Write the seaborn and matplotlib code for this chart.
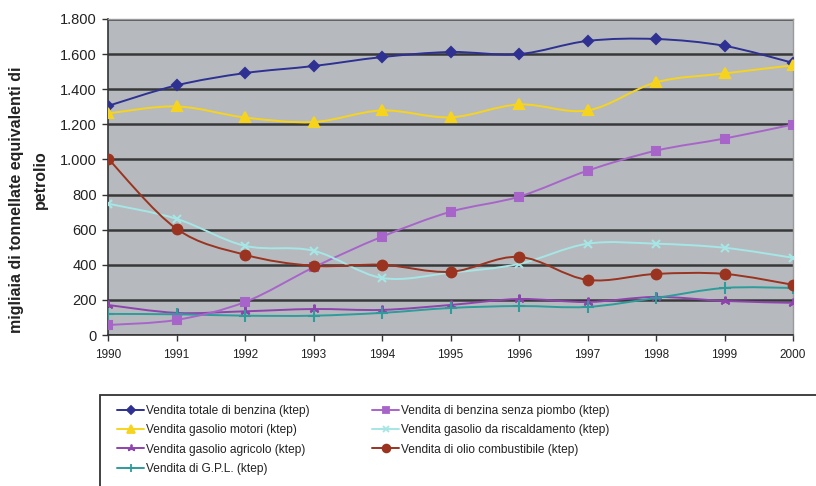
import numpy as np
import pandas as pd
import matplotlib
matplotlib.use("Agg")
import matplotlib.pyplot as plt
from matplotlib.path import Path
from matplotlib.patches import PathPatch, Rectangle
from matplotlib.lines import Line2D
from matplotlib.ticker import FuncFormatter
import seaborn as sns

years = [1990, 1991, 1992, 1993, 1994, 1995, 1996, 1997, 1998, 1999, 2000]

benzina_totale = [1305, 1422, 1492, 1532, 1583, 1612, 1600, 1675, 1686, 1647, 1550]
gasolio_motori = [1262, 1302, 1239, 1213, 1279, 1240, 1313, 1279, 1439, 1490, 1536]
benzina_senza_piombo = [57, 86, 188, 385, 560, 702, 788, 936, 1050, 1119, 1199]
gasolio_riscaldamento = [748, 662, 508, 480, 325, 355, 405, 520, 520, 497, 440]
gasolio_agricolo = [171, 126, 135, 148, 143, 171, 205, 188, 217, 194, 183]
olio_combustibile = [1005, 605, 457, 394, 400, 360, 445, 314, 348, 348, 286]
gpl = [120, 118, 110, 110, 126, 154, 165, 160, 211, 268, 268]

labels = [
    "Vendita totale di benzina (ktep)",
    "Vendita gasolio motori (ktep)",
    "Vendita gasolio agricolo (ktep)",
    "Vendita di G.P.L. (ktep)",
    "Vendita di benzina senza piombo (ktep)",
    "Vendita gasolio da riscaldamento (ktep)",
    "Vendita di olio combustibile (ktep)",
]
series = [benzina_totale, gasolio_motori, gasolio_agricolo, gpl,
          benzina_senza_piombo, gasolio_riscaldamento, olio_combustibile]
colors = ["#2E3192", "#F6D41E", "#8E44AD", "#2E9C9A",
          "#A865C9", "#A6E6E6", "#9A3320"]
markers = ["D", "^", (3, 2, 0), "+", "s", "x", "o"]
msizes = [5, 7, 7, 8, 6, 6, 7]

sns.set_theme(style="white")
plt.rcParams["font.family"] = ["Liberation Sans", "DejaVu Sans"]

W, H = 816, 486
fig = plt.figure(figsize=(W / 100, H / 100), dpi=100)
ax = fig.add_axes([108 / W, 1 - 335 / H, (793 - 108) / W, (335 - 19) / H])
ax.set_facecolor("#B6BABE")


def smooth_path(x, y):
    # Catmull-Rom style cubic Bezier through every data point
    x = np.asarray(x, float)
    y = np.asarray(y, float)
    pts = np.column_stack([x, y])
    verts = [pts[0]]
    codes = [Path.MOVETO]
    n = len(pts)
    for i in range(n - 1):
        p0 = pts[i - 1] if i > 0 else pts[i]
        p1 = pts[i]
        p2 = pts[i + 1]
        p3 = pts[i + 2] if i + 2 < n else pts[i + 1]
        c1 = p1 + (p2 - p0) / 6.0
        c2 = p2 - (p3 - p1) / 6.0
        verts += [c1, c2, p2]
        codes += [Path.CURVE4] * 3
    return Path(verts, codes)


for vals, col, mk, ms in zip(series, colors, markers, msizes):
    ax.add_patch(PathPatch(smooth_path(years, vals), facecolor="none",
                           edgecolor=col, lw=1.4, zorder=3))
    df = pd.DataFrame({"anno": years, "valore": vals})
    sns.lineplot(data=df, x="anno", y="valore", ax=ax, color=col, marker=mk,
                 markersize=ms, markeredgecolor=col, markeredgewidth=1.5,
                 linestyle="", zorder=4)

ax.set_xlim(1990, 2000)
ax.set_ylim(0, 1800)
ax.set_xticks(years)
ax.set_xticklabels([str(y) for y in years], fontsize=8.5)
ax.set_yticks(range(0, 1801, 200))
ax.yaxis.set_major_formatter(FuncFormatter(lambda v, p: f"{int(v):,}".replace(",", ".")))
ax.tick_params(axis="y", labelsize=10.5, length=4, width=1, color="#333333", pad=4,
               direction="out", left=True)
ax.tick_params(axis="x", length=4, width=1, color="#333333", pad=6,
               direction="out", bottom=True)
for t in ax.get_yticklabels() + ax.get_xticklabels():
    t.set_color("#222222")

ax.grid(axis="y", color="#383838", lw=1.8)
ax.grid(axis="x", visible=False)
ax.set_axisbelow(True)
for s in ["top", "right"]:
    ax.spines[s].set_color("#9A9A9A")
    ax.spines[s].set_linewidth(1)
for s in ["left", "bottom"]:
    ax.spines[s].set_color("#333333")
    ax.spines[s].set_linewidth(1.2)
ax.set_xlabel("")
ax.set_ylabel("")

# Two-line rotated axis title
fig.text(17 / W, 1 - 200 / H, "migliaia di tonnellate equivalenti di",
         rotation=90, ha="center", va="center", fontsize=11.5, fontweight="bold",
         color="#222222")
fig.text(40 / W, 1 - 180 / H, "petrolio",
         rotation=90, ha="center", va="center", fontsize=11.5, fontweight="bold",
         color="#222222")

# Legend box running off the lower right edge of the figure
fig.patches.append(Rectangle((100 / W, -0.05), 760 / W, (H - 395) / H + 0.05,
                             transform=fig.transFigure, facecolor="white",
                             edgecolor="#333333", lw=1.3, clip_on=False))

handles = [Line2D([], [], color=c, marker=m, markersize=s * 0.8,
                  markeredgecolor=c, markeredgewidth=1.3, lw=1.4)
           for c, m, s in zip(colors, markers, msizes)]
leg = fig.legend(handles, labels, ncol=2, loc="upper left",
                 bbox_to_anchor=(112 / W, 1 - 400 / H), frameon=False,
                 fontsize=8.6, handlelength=2.3, handletextpad=0.15,
                 columnspacing=5.2, labelspacing=0.62, borderaxespad=0)
for t in leg.get_texts():
    t.set_color("#222222")

fig.savefig("out.png", dpi=100)
